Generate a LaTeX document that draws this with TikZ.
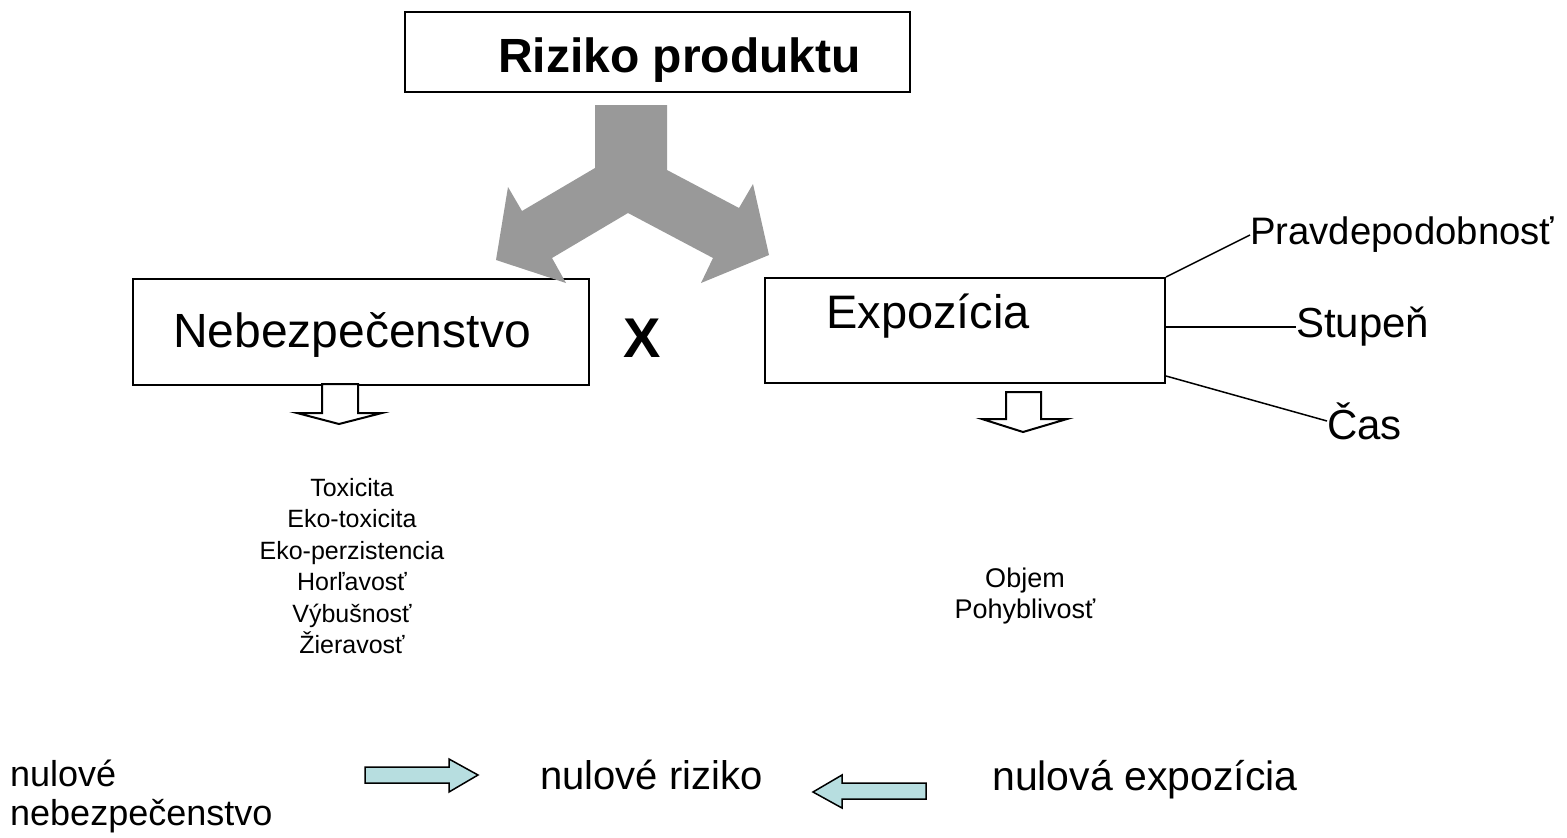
\documentclass[tikz,border=0pt]{standalone}
\usepackage{fontspec}
\setmainfont{Liberation Sans}
\definecolor{arrgray}{HTML}{999999}
\definecolor{lcyan}{HTML}{B7DEE0}
\tikzset{
  box/.style={draw=black, line width=2pt, inner sep=0pt, fill=white},
  lbl/.style={inner sep=0pt, anchor=base west},
  hollow/.style={draw=black, line width=2pt, fill=white, line join=miter},
  cyanarrow/.style={draw=black, line width=1.5pt, fill=lcyan, line join=miter},
  conn/.style={draw=black, line width=1.5pt},
}
\newcommand{\fs}[1]{\fontsize{#1}{#1}\selectfont}
\begin{document}
\begin{tikzpicture}[x=1pt,y=-1pt]
\useasboundingbox (0,0) rectangle (1567,838);
% boxes
\node[box, minimum width=505pt, minimum height=80pt] (top) at (657.5,52) {};
\node[box, minimum width=456pt, minimum height=106pt] (neb) at (361,332) {};
\node[box, minimum width=400pt, minimum height=105pt] (expo) at (965,330.5) {};
% texts in boxes
\node[lbl] (toptxt) at (498,72) {\fs{48}\bfseries Riziko produktu};
\node[lbl] (nebtxt) at (173,347) {\fs{48}Nebezpečenstvo};
\node[lbl] (expotxt) at (826,328) {\fs{47}Expozícia};
\node[lbl] (x) at (623,357) {\fs{56}\bfseries X};
% gray split arrow
\fill[arrgray] (595,105) -- (667,105) -- (667,170) -- (739,208) -- (753,184) -- (769,255)
  -- (701,283) -- (713,258) -- (628,213) -- (552,258) -- (566,283) -- (496,260)
  -- (508,187) -- (522,211) -- (595,168) -- cycle;
% hollow down arrows
\draw[hollow] (322,384) -- (358,384) -- (358,413) -- (382,413) -- (339,424) -- (297,413) -- (322,413) -- cycle;
\draw[hollow] (1006,392) -- (1041,392) -- (1041,419) -- (1067,419) -- (1023,432) -- (982,419) -- (1006,419) -- cycle;
% lists
\node[inner sep=0pt, align=center, font=\fontsize{25}{31.4}\selectfont] (hazlist) at (352,566)
  {Toxicita\\Eko-toxicita\\Eko-perzistencia\\Horľavosť\\Výbušnosť\\Žieravosť};
\node[inner sep=0pt, align=center, font=\fontsize{27}{31}\selectfont] (expolist) at (1025,596)
  {Objem\\Pohyblivosť};
% right labels
\node[inner sep=0pt, anchor=west] (prav) at (1250,235) {\fs{38.3}Pravdepodobnosť};
\node[inner sep=0pt, anchor=west] (stup) at (1296,327) {\fs{42}Stupeň};
\node[inner sep=0pt, anchor=west] (cas) at (1327,421) {\fs{42}Čas};
\draw[conn] (expo.north east) -- (prav.west);
\draw[conn] (expo.east |- stup.west) -- (stup.west);
\draw[conn] ([yshift=8pt]expo.south east) -- (cas.west);
% bottom row
\node[inner sep=0pt, anchor=base west, align=left, font=\fontsize{36}{39}\selectfont] (nulneb) at (10,825)
  {nulové\\nebezpečenstvo};
\node[lbl] (nulriz) at (540,789) {\fs{40}nulové riziko};
\node[lbl] (nulexp) at (992,790) {\fs{41}nulová expozícia};
\draw[cyanarrow] (365,767) -- (449,767) -- (449,759) -- (478,775) -- (449,792) -- (449,783) -- (365,783) -- cycle;
\draw[cyanarrow] (926,783) -- (842,783) -- (842,775) -- (813,792) -- (842,808) -- (842,799) -- (926,799) -- cycle;
\end{tikzpicture}
\end{document}
